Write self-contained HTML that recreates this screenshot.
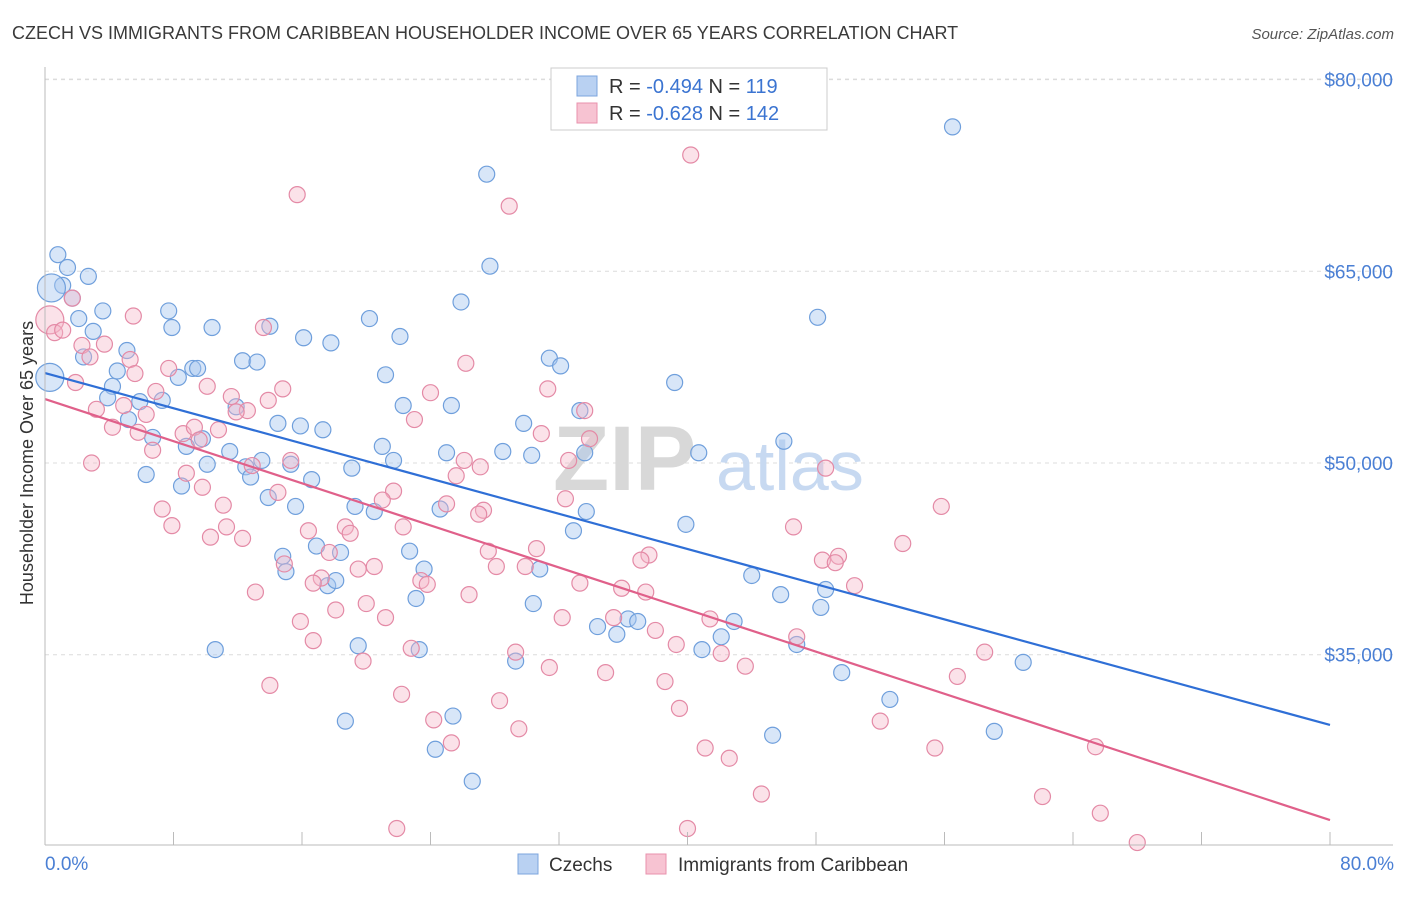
<!DOCTYPE html>
<html><head><meta charset="utf-8"><style>
body{margin:0;background:#fff;font-family:"Liberation Sans",sans-serif}
svg text{font-family:"Liberation Sans",sans-serif}
</style></head><body>
<svg id="chart" width="1406" height="892" xmlns="http://www.w3.org/2000/svg">
<text x="12" y="39" font-size="18" fill="#3a3a3a">CZECH VS IMMIGRANTS FROM CARIBBEAN HOUSEHOLDER INCOME OVER 65 YEARS CORRELATION CHART</text>
<text x="1394" y="39" font-size="15" fill="#555" font-style="italic" text-anchor="end">Source: ZipAtlas.com</text>
<g id="grid"></g>
<g>
<text x="553" y="490" font-size="92" fill="#d8d8d8" font-family="Liberation Serif" font-weight="bold">ZIP</text>
<text x="716" y="490" font-size="70" fill="#c7d9f1">atlas</text></g>
<g id="points"></g>
<g id="lines"></g>
<g id="axes"></g>
<text transform="translate(33,463) rotate(-90)" font-size="18" fill="#333" text-anchor="middle">Householder Income Over 65 years</text>
<text x="45" y="870" font-size="19" fill="#4a7fd4">0.0%</text>
<text x="1394" y="870" font-size="19" fill="#4a7fd4" text-anchor="end">80.0%</text>
<g>
<rect x="551" y="68" width="276" height="62" fill="#fff" stroke="#ccc"/>
<rect x="577" y="76" width="20" height="20" fill="#b9d1f2" stroke="#7ca5de"/>
<rect x="577" y="103" width="20" height="20" fill="#f7c3d2" stroke="#e892ac"/>
<text x="609" y="93" font-size="20" fill="#333">R = <tspan fill="#3b74d1">-0.494</tspan>    N = <tspan fill="#3b74d1">119</tspan></text>
<text x="609" y="120" font-size="20" fill="#333">R = <tspan fill="#3b74d1">-0.628</tspan>    N = <tspan fill="#3b74d1">142</tspan></text>
</g>
<g>
<rect x="518" y="854" width="20" height="20" fill="#b9d1f2" stroke="#7ca5de"/>
<text x="549" y="871" font-size="19" fill="#333">Czechs</text>
<rect x="646" y="854" width="20" height="20" fill="#f7c3d2" stroke="#e892ac"/>
<text x="678" y="871" font-size="19" fill="#333">Immigrants from Caribbean</text>
</g>
</svg>
<script>
const yTicks=[35000,50000,65000,80000];
const yTickLabels=["$35,000","$50,000","$65,000","$80,000"];
const xTicks=[0,8,16,24,32,40,48,56,64,72,80];
const czX=[0.8,1.4,2.7,1.1,0.4,1.7,3.6,2.1,7.7,7.9,10.4,14.0,20.2,16.1,17.8,22.1,25.9,27.7,27.5,56.5,48.1,3.0,5.1,2.4,0.3,4.5,8.3,9.2,9.5,12.3,13.2,21.2,31.4,32.1,39.2,4.2,3.9,5.9,7.3,11.9,22.3,25.3,5.2,14.5,15.9,17.3,29.8,33.3,6.7,8.8,9.8,11.5,10.1,12.5,13.5,15.3,21.0,21.7,25.0,28.5,30.3,33.6,40.7,46.0,6.3,12.8,19.1,16.6,8.5,13.9,15.6,19.3,20.5,24.6,33.7,32.9,39.9,16.9,18.4,22.7,14.8,15.0,23.6,30.8,17.6,18.1,23.1,44.0,45.8,48.6,48.3,30.4,36.3,36.9,34.4,35.6,42.9,42.1,40.9,46.8,10.6,19.5,23.3,29.3,49.6,60.9,52.6,18.7,25.4,24.3,26.6,45.3,59.1];
const czY=[66.3,65.3,64.6,63.9,63.7,62.9,61.9,61.3,61.9,60.6,60.6,60.7,61.3,59.8,59.4,59.9,62.6,65.4,72.6,76.3,61.4,60.3,58.8,58.3,56.7,57.2,56.7,57.4,57.4,58.0,57.9,56.9,58.2,57.6,56.3,56.0,55.1,54.8,54.9,54.4,54.5,54.5,53.4,53.1,52.9,52.6,53.1,54.1,52.0,51.3,51.9,50.9,49.9,49.7,50.2,49.9,51.3,50.2,50.8,50.9,50.6,50.8,50.8,51.7,49.1,48.9,49.6,48.7,48.2,47.3,46.6,46.6,46.2,46.4,46.2,44.7,45.2,43.5,43.0,43.1,42.7,41.5,41.7,41.7,40.4,40.8,39.4,41.2,39.7,40.1,38.7,39.0,37.8,37.6,37.2,36.6,37.6,36.4,35.4,35.8,35.4,35.7,35.4,34.5,33.6,34.4,31.5,29.8,30.2,27.6,25.1,28.7,29.0];
const cbX=[15.7,28.9,40.2,0.3,0.6,1.1,1.7,5.5,13.6,2.3,3.7,2.8,5.3,7.7,26.2,1.9,5.6,10.1,14.8,24.0,31.3,3.2,4.9,6.9,11.6,12.6,13.9,6.3,33.6,4.2,5.8,8.6,9.3,10.8,11.9,23.0,30.9,33.9,6.7,9.6,2.9,8.8,15.3,12.9,26.1,25.6,27.1,32.6,48.6,9.8,14.5,21.7,21.0,11.1,7.3,25.0,27.3,27.0,55.8,32.4,7.9,10.3,12.3,11.3,16.4,18.7,19.0,22.3,46.6,53.4,17.7,27.6,30.6,37.6,20.5,19.5,17.2,28.1,29.9,37.1,48.4,49.4,49.2,14.9,16.7,23.4,23.8,33.3,35.9,37.4,50.4,13.1,26.4,18.1,20.0,21.2,35.4,38.0,41.4,15.9,32.2,16.7,39.3,46.8,29.3,22.8,42.1,19.8,31.4,34.9,43.6,58.5,56.8,14.0,38.6,22.2,28.3,39.5,24.2,29.5,52.0,25.3,41.1,55.4,65.4,42.6,44.6,62.1,65.7,21.9,40.0,68.0];
const cbY=[71.0,70.1,74.1,61.2,60.2,60.4,62.9,61.5,60.6,59.2,59.3,58.3,58.1,57.4,57.8,56.3,57.0,56.0,55.8,55.5,55.8,54.2,54.5,55.6,55.2,54.1,54.9,53.8,54.1,52.8,52.4,52.3,52.8,52.6,54.0,53.4,52.3,51.9,51.0,51.8,50.0,49.2,50.2,49.8,50.2,49.0,49.7,50.2,49.6,48.1,47.7,47.8,47.1,46.7,46.4,46.8,46.3,46.0,46.6,47.2,45.1,44.2,44.1,45.0,44.7,45.0,44.5,45.0,45.0,43.7,43.0,43.1,43.3,42.8,41.9,41.7,41.0,41.9,41.9,42.4,42.4,42.7,42.2,42.1,40.6,40.8,40.5,40.6,40.2,39.9,40.4,39.9,39.7,38.5,39.0,37.9,37.9,36.9,37.8,37.6,37.9,36.1,35.8,36.4,35.2,35.5,35.1,34.5,34.0,33.6,34.1,35.2,33.3,32.6,32.9,31.9,31.4,30.8,29.9,29.2,29.8,28.1,27.7,27.7,27.8,26.9,24.1,23.9,22.6,21.4,21.4,20.3];
const czTrend=[57.04,29.5];
const cbTrend=[55.0,22.06];
const czLarge=[4,24];
const cbLarge=[3];

const NS="http://www.w3.org/2000/svg";
const X0=45,X1=1330;
function sx(p){return X0+(p/80)*(X1-X0);}
function sy(v){return 463-(v-50000)*(191.7/15000);}
function mk(tag,attrs,parent){const e=document.createElementNS(NS,tag);for(const k in attrs)e.setAttribute(k,attrs[k]);parent.appendChild(e);return e;}
const grid=document.getElementById('grid'),axes=document.getElementById('axes'),pts=document.getElementById('points'),lines=document.getElementById('lines');
mk('line',{x1:45,x2:1393,y1:79,y2:79,stroke:'#e3e3e3','stroke-dasharray':'4,4'},grid);
yTicks.forEach((v,i)=>{
 const l=mk('line',{x1:45,x2:1393,y1:sy(v),y2:sy(v),stroke:'#dcdcdc','stroke-dasharray':'4,4'},grid);
 
 
 const t=mk('text',{x:1393,y:sy(v)+7,'font-size':19,fill:'#4a7fd4','text-anchor':'end'},grid);
 t.textContent=yTickLabels[i];
 
 
});
mk('line',{x1:45,x2:45,y1:67,y2:845,stroke:'#bbb'},axes);
mk('line',{x1:45,x2:1393,y1:845,y2:845,stroke:'#bbb'},axes);
xTicks.forEach(p=>{
 const t=mk('line',{x1:sx(p),x2:sx(p),y1:832,y2:845,stroke:'#bbb'},axes);
 
 
});
function drawSeries(xs,ys,large,fill,stroke,name){
 xs.forEach((x,i)=>{
  const r=large.includes(i)?14:8;
  const c=mk('circle',{cx:sx(x),cy:sy(ys[i]*1000),r:r,fill:fill,stroke:stroke,'stroke-width':1.2},pts);
  
  
 });
}
drawSeries(czX,czY,czLarge,'rgba(169,200,240,0.45)','#6f9fdc','czech-point');
drawSeries(cbX,cbY,cbLarge,'rgba(245,182,200,0.4)','#e48aa6','caribbean-point');
const l1=mk('line',{x1:sx(0),y1:sy(czTrend[0]*1000),x2:sx(80),y2:sy(czTrend[1]*1000),stroke:'#2f6fd6','stroke-width':2.2},lines);


const l2=mk('line',{x1:sx(0),y1:sy(cbTrend[0]*1000),x2:sx(80),y2:sy(cbTrend[1]*1000),stroke:'#e0608a','stroke-width':2.2},lines);


</script>
</body></html>
